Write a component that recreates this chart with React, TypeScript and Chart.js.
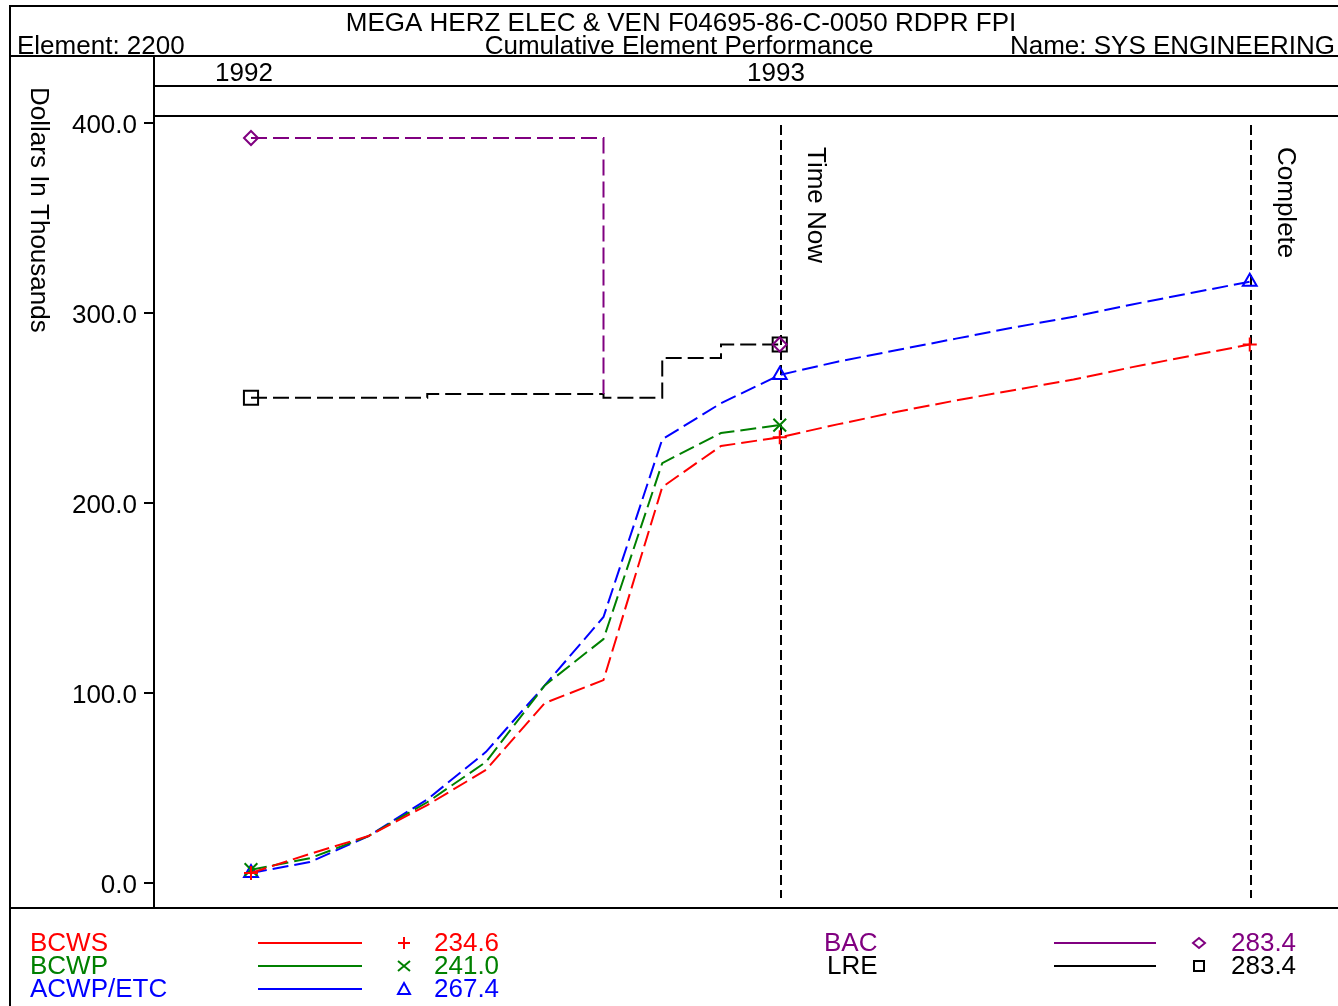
import { useEffect, useRef } from 'react';
import { Chart, registerables } from 'chart.js';

Chart.register(...registerables);

// ---- data -------------------------------------------------------------
const MONTHS = [0, 1, 2, 3, 4, 5, 6, 7, 8, 9, 10, 11, 12, 13, 14, 15, 16, 17];
const BCWS = [5.3, 15.3, 24.7, 41.0, 59.5, 94.7, 106.8, 208.4, 230.0, 234.6, 241.5, 248.0, 254.0, 259.5, 265.0, 271.5, 277.5, 283.4];
const BCWP = [7.0, 13.0, 24.7, 42.5, 63.7, 104.0, 128.4, 221.0, 236.8, 241.0];
const ACWP_ETC = [5.3, 11.0, 24.7, 44.0, 69.0, 104.0, 140.0, 233.5, 252.5, 267.4, 274.5, 280.5, 286.5, 292.5, 298.0, 304.5, 310.5, 316.5];
const BAC = [392.1, 392.1, 392.1, 392.1, 392.1, 392.1, 257.4, null, null, 283.4];
const LRE = [255.4, 255.4, 255.4, 257.4, 257.4, 257.4, 255.4, 276.3, 283.4, 283.4];

const TIME_NOW = 9;
const COMPLETE = 17;
const Y_TICKS = [0, 100, 200, 300, 400];
const YEAR_LABELS = ['1992', '1993'];

const HEADER_TITLE = 'MEGA HERZ ELEC & VEN F04695-86-C-0050 RDPR FPI';
const HEADER_SUB = 'Cumulative Element Performance';
const HEADER_LEFT = 'Element: 2200';
const HEADER_RIGHT = 'Name: SYS ENGINEERING';
const Y_TITLE = 'Dollars In Thousands';

const RED = '#ff0000';
const GREEN = '#008000';
const BLUE = '#0000ff';
const PURPLE = '#800080';
const BLACK = '#000000';

const FONT = '"Liberation Sans", Arial, sans-serif';
const F26 = `26px ${FONT}`;

const W = 1338;
const H = 1006;

type Series = {
  label: string;
  values: (number | null)[];
  color: string;
  style: string;
  radius: number;
  marks: number[];
  stepped?: boolean;
};

const SERIES: Series[] = [
  { label: 'BCWS', values: BCWS, color: RED, style: 'cross', radius: 7, marks: [0, TIME_NOW, COMPLETE] },
  { label: 'BCWP', values: BCWP, color: GREEN, style: 'crossRot', radius: 9, marks: [0, TIME_NOW] },
  { label: 'ACWP/ETC', values: ACWP_ETC, color: BLUE, style: 'triangle', radius: 8, marks: [0, TIME_NOW, COMPLETE] },
  { label: 'BAC', values: BAC, color: PURPLE, style: 'rectRot', radius: 7, marks: [0, TIME_NOW], stepped: true },
  { label: 'LRE', values: LRE, color: BLACK, style: 'rect', radius: 10, marks: [0, TIME_NOW], stepped: true },
];

// small marker glyphs used in the legend rows
function drawMarker(ctx: CanvasRenderingContext2D, style: string, x: number, y: number, color: string) {
  ctx.save();
  ctx.strokeStyle = color;
  ctx.lineWidth = 2;
  ctx.setLineDash([]);
  ctx.beginPath();
  if (style === 'cross') {
    ctx.moveTo(x - 6, y); ctx.lineTo(x + 6, y);
    ctx.moveTo(x, y - 6); ctx.lineTo(x, y + 6);
  } else if (style === 'crossRot') {
    ctx.moveTo(x - 6, y - 5); ctx.lineTo(x + 6, y + 5);
    ctx.moveTo(x + 6, y - 5); ctx.lineTo(x - 6, y + 5);
  } else if (style === 'triangle') {
    ctx.moveTo(x, y - 6); ctx.lineTo(x + 6, y + 5); ctx.lineTo(x - 6, y + 5); ctx.closePath();
  } else if (style === 'rectRot') {
    ctx.moveTo(x - 6, y); ctx.lineTo(x, y - 5); ctx.lineTo(x + 6, y); ctx.lineTo(x, y + 5); ctx.closePath();
  } else {
    ctx.rect(x - 5, y - 5, 10, 10);
  }
  ctx.stroke();
  ctx.restore();
}

const framePlugin = {
  id: 'evmFrame',
  beforeDatasetsDraw(chart: any) {
    const { ctx, chartArea, scales } = chart;
    ctx.save();
    ctx.strokeStyle = BLACK;
    ctx.lineWidth = 2;
    ctx.setLineDash([10, 5]);
    for (const m of [TIME_NOW, COMPLETE]) {
      const x = Math.round(scales.x.getPixelForValue(MONTHS[m])) + 1;
      ctx.beginPath();
      ctx.moveTo(x, chartArea.top + 9);
      ctx.lineTo(x, chartArea.bottom - 10);
      ctx.stroke();
    }
    ctx.restore();

    // rotated labels next to the reference lines
    ctx.save();
    ctx.fillStyle = BLACK;
    ctx.font = F26;
    ctx.textAlign = 'left';
    ctx.textBaseline = 'middle';
    const refLabels: [number, string][] = [[TIME_NOW, 'Time Now'], [COMPLETE, 'Complete']];
    for (const [m, text] of refLabels) {
      const x = scales.x.getPixelForValue(MONTHS[m]) + 35;
      ctx.save();
      ctx.translate(x, chartArea.top + 31);
      ctx.rotate(Math.PI / 2);
      ctx.fillText(text, 0, 0);
      ctx.restore();
    }
    ctx.restore();
  },
  afterDraw(chart: any) {
    const { ctx, chartArea, scales } = chart;
    ctx.save();
    ctx.strokeStyle = BLACK;
    ctx.lineWidth = 2;
    ctx.setLineDash([]);
    const line = (x1: number, y1: number, x2: number, y2: number) => {
      ctx.beginPath();
      ctx.moveTo(x1, y1);
      ctx.lineTo(x2, y2);
      ctx.stroke();
    };
    // outer box and header / band rules
    line(10, 6, W, 6);
    line(10, 5, 10, H);
    line(10, 56, W, 56);
    line(chartArea.left, 86, W, 86);
    line(chartArea.left, chartArea.top, W, chartArea.top);
    line(10, chartArea.bottom, W, chartArea.bottom);
    line(chartArea.left, 56, chartArea.left, chartArea.bottom);

    // y tick labels, placed from the y scale
    ctx.fillStyle = BLACK;
    ctx.font = F26;
    ctx.textAlign = 'right';
    ctx.textBaseline = 'alphabetic';
    for (const t of scales.y.ticks) {
      const y = scales.y.getPixelForValue(t.value);
      ctx.fillText(Number(t.value).toFixed(1), chartArea.left - 17, y + 10);
    }

    // header texts
    ctx.textAlign = 'center';
    ctx.fillText(HEADER_TITLE, 681, 31);
    ctx.fillText(HEADER_SUB, 679, 54);
    ctx.textAlign = 'left';
    ctx.fillText(HEADER_LEFT, 17, 54);
    ctx.textAlign = 'right';
    ctx.fillText(HEADER_RIGHT, 1335, 54);

    // year band
    ctx.textAlign = 'center';
    ctx.fillText(YEAR_LABELS[0], 244, 81);
    ctx.fillText(YEAR_LABELS[1], 776, 81);

    // y axis title, reading downwards
    ctx.save();
    ctx.translate(38, 87);
    ctx.rotate(Math.PI / 2);
    ctx.textAlign = 'left';
    ctx.textBaseline = 'middle';
    ctx.fillText(Y_TITLE, 0, 0);
    ctx.restore();

    // legend
    const rows = [943, 966, 989];
    const cols = [
      { text: 30, x1: 258, x2: 362, mark: 404, val: 434 },
      { text: 824, x1: 1054, x2: 1156, mark: 1199, val: 1231 },
    ];
    SERIES.forEach((s, i) => {
      const col = cols[i < 3 ? 0 : 1];
      const y = rows[i < 3 ? i : i - 3];
      const v = s.values[TIME_NOW] as number;
      ctx.fillStyle = s.color;
      ctx.textAlign = 'left';
      ctx.textBaseline = 'middle';
      ctx.font = F26;
      ctx.fillText(s.label, col.text + (s.label === 'LRE' ? 3 : 0), y + 1);
      ctx.fillText(v.toFixed(1), col.val, y + 1);
      ctx.strokeStyle = s.color;
      ctx.lineWidth = 2;
      line(col.x1, y, col.x2, y);
      drawMarker(ctx, s.style, col.mark, y, s.color);
    });
    ctx.restore();
  },
};

export default function App() {
  const ref = useRef<HTMLCanvasElement | null>(null);

  useEffect(() => {
    if (!ref.current) return;
    const datasets = SERIES.map((s) => ({
      label: s.label,
      data: s.values.map((v, i) => ({ x: MONTHS[i], y: v })),
      borderColor: s.color,
      backgroundColor: 'transparent',
      borderWidth: 2,
      borderDash: [16, 6],
      stepped: s.stepped ? ('before' as const) : false,
      tension: 0,
      spanGaps: false,
      pointStyle: s.style,
      pointRadius: (c: any) => (s.marks.includes(c.dataIndex) ? s.radius : 0),
      pointBorderColor: s.color,
      pointBackgroundColor: 'transparent',
      pointBorderWidth: 2,
      pointHoverRadius: 0,
    }));

    const chart = new Chart(ref.current, {
      type: 'line',
      data: { datasets },
      plugins: [framePlugin],
      options: {
        animation: false,
        responsive: false,
        devicePixelRatio: 1,
        events: [],
        layout: { autoPadding: false, padding: { left: 0, top: 116, right: 1, bottom: 98 } },
        plugins: { legend: { display: false }, tooltip: { enabled: false }, title: { display: false } },
        scales: {
          x: {
            type: 'linear',
            display: false,
            min: -1.651,
            max: 18.485,
          },
          y: {
            type: 'linear',
            min: -13.16,
            max: 403.68,
            afterBuildTicks: (scale: any) => {
              scale.ticks = Y_TICKS.map((v) => ({ value: v }));
            },
            afterFit: (scale: any) => {
              scale.width = 154;
            },
            border: { display: false },
            grid: {
              drawOnChartArea: false,
              drawTicks: true,
              tickLength: 10,
              color: BLACK,
              lineWidth: 2,
            },
            ticks: { display: false },
          },
        },
      },
    });
    return () => chart.destroy();
  }, []);

  return (
    <div style={{ position: 'absolute', left: 0, top: 0, width: W, height: H, background: '#fff' }}>
      <canvas ref={ref} width={W} height={H} style={{ width: W, height: H, display: 'block' }} />
    </div>
  );
}
